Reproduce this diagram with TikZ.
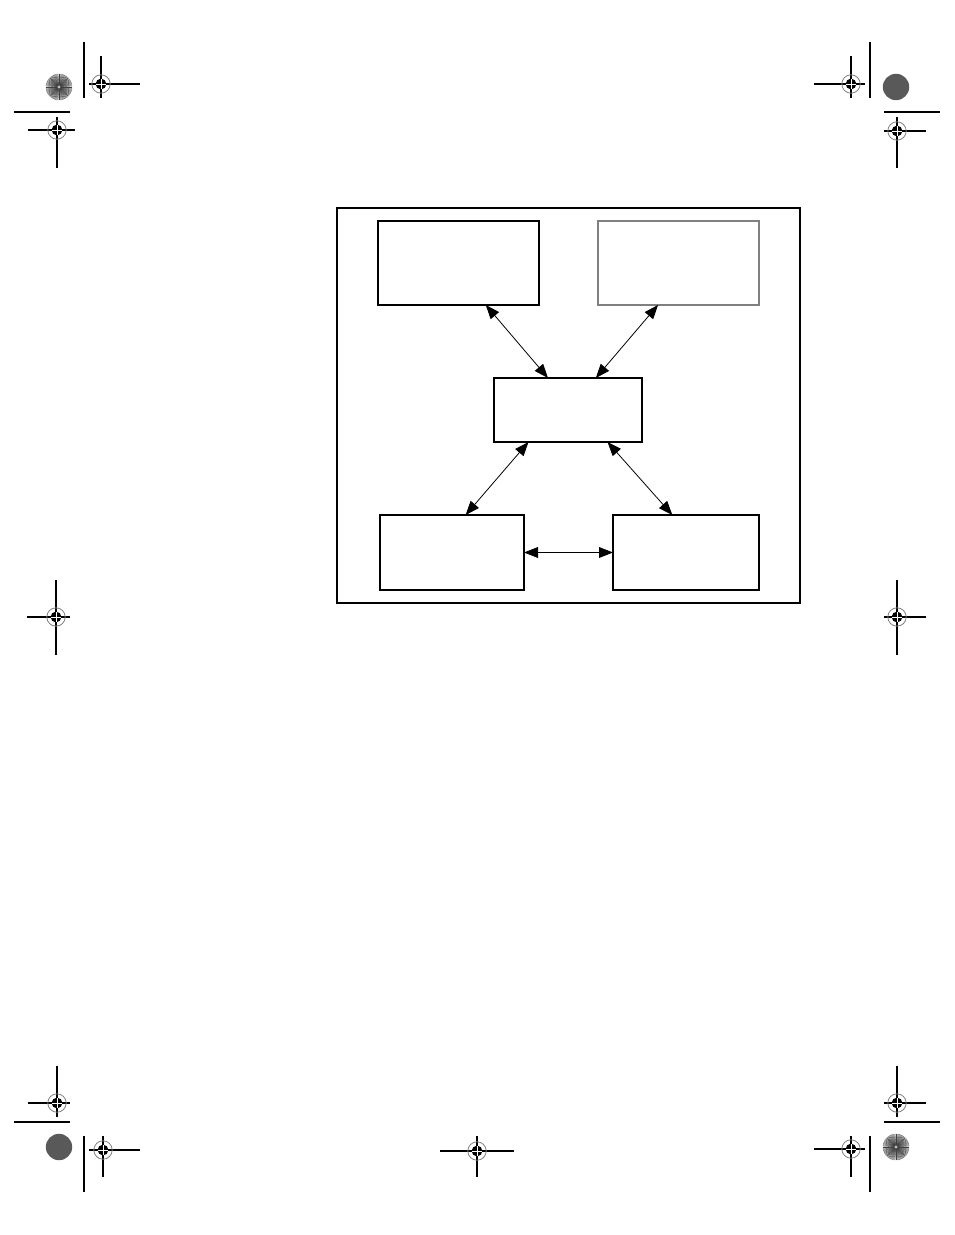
\documentclass[tikz,border=0pt]{standalone}
\usepackage{tikz}
\usetikzlibrary{arrows.meta, positioning}

\begin{document}
\begin{tikzpicture}[x=0.5pt, y=-0.5pt,
        box/.style={draw, line width=0.55pt, inner sep=0pt, outer sep=0pt},
        link/.style={{Triangle[length=7pt, width=5.4pt]}-{Triangle[length=7pt, width=5.4pt]}, line width=0.4pt},
        cropline/.style={line width=0.8pt},
        target/.style={line width=0.6pt}]
        \useasboundingbox (0,0) rectangle (954,1235);

        % Crop lines
        \draw[cropline] (84,42) -- (84,98) (14,112) -- (70,112);
        \draw[cropline] (870,42) -- (870,98) (884,112) -- (940,112);
        \draw[cropline] (14,1122) -- (70,1122) (84,1136) -- (84,1192);
        \draw[cropline] (884,1122) -- (940,1122) (870,1136) -- (870,1192);

        % Register marks
        \foreach \cx/\cy/\xa/\xb/\ya/\yb in {101/84/89/140/56/98, 57/130/28/75/117/168,
                851/84/814/865/56/98, 897/131/884/926/117/168,
                56/617/27/70/580/655, 897/617/884/926/580/655,
                57/1103/28/70/1066/1117, 103/1150/89/140/1136/1177,
                477/1151/440/514/1136/1177, 897/1103/884/926/1066/1117,
                851/1149/814/865/1136/1177} {
            \draw[target] (\xa,\cy) -- (\xb,\cy) (\cx,\ya) -- (\cx,\yb);
            \draw[gray, line width=0.4pt] (\cx,\cy) circle[radius=4.6pt];
            \fill (\cx,\cy) circle[radius=2.7pt];
            \draw[white, line width=0.4pt] (\cx,\cy) ++(-2.7pt,0) -- ++(5.4pt,0)
                (\cx,\cy) ++(0,-2.7pt) -- ++(0,5.4pt);
        }

        % Colour bars
        \foreach \cx/\cy in {59/87, 896/1147} {
            \fill[gray!25] (\cx,\cy) circle[radius=6.6pt];
            \foreach \a in {0,5,...,355}
                \draw[black!75, line width=0.2pt] (\cx,\cy) -- ++(\a:6.6pt);
            \fill[gray!50] (\cx,\cy) circle[radius=0.8pt];
        }
        \foreach \cx/\cy in {896/87, 59/1147}
            \fill[gray!70!black] (\cx,\cy) circle[radius=6.6pt];

        % Frame
        \node[box, line width=0.75pt, minimum width=231.5pt, minimum height=197.5pt] (frame) at (568.5,405.5) {};

        % Blocks
        \node[box, minimum width=80.5pt, minimum height=42pt] (upleft) at (458.5,263) {};
        \node[box, draw=black!50, minimum width=80.5pt, minimum height=42pt] (upright) at (678.5,263) {};
        \node[box, minimum width=74pt, minimum height=32pt] (hub) at (568,410) {};
        \node[box, minimum width=72pt, minimum height=37.5pt] (lowleft) at (452,552.5) {};
        \node[box, minimum width=73pt, minimum height=37.5pt] (lowright) at (686,552.5) {};

        % Arrows
        \draw[link] (upleft.-57) -- (hub.122);
        \draw[link] (upright.-116) -- (hub.49);
        \draw[link] (hub.-141) -- (lowleft.70);
        \draw[link] (hub.-39) -- (lowright.110);
        \draw[link] (lowleft.east) -- (lowright.west);
    \end{tikzpicture}
\end{document}
